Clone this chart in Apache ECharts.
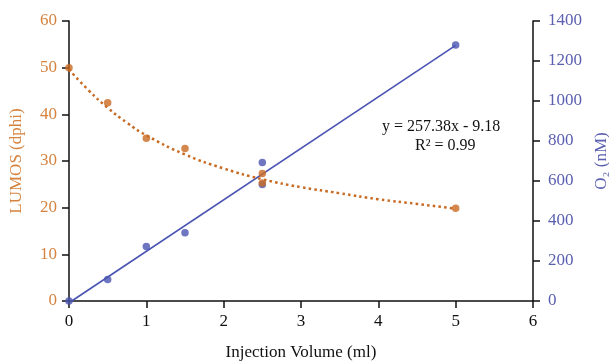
<!DOCTYPE html>
<html>
<head>
<meta charset="utf-8">
<script src="https://cdn.jsdelivr.net/npm/echarts@6/dist/echarts.min.js"></script>
<style>
  html, body { margin: 0; padding: 0; background: #fff; }
  #chart { width: 609px; height: 361px; }
</style>
</head>
<body>
<div id="chart"></div>
<script>
// LUMOS readings (left axis)
const lumosX = [0, 0.5, 1, 1.5, 2.5, 2.5, 5];
const lumosY = [50, 42.5, 34.9, 32.7, 27.3, 25.3, 19.9];

// dotted trend curve
const lumosTrendX = [0, 0.25, 0.5, 0.75, 1, 1.5, 2, 2.5, 3, 3.5, 4, 4.5, 5];
const lumosTrendY = [49.6, 45.2, 41.4, 38.2, 35.5, 31.4, 28.4, 26.1, 24.4, 23.1, 21.8, 20.8, 19.8];

// O2 readings (right axis)
const o2X = [0, 0.5, 1, 1.5, 2.5, 2.5, 5];
const o2Y = [0, 107, 272, 341, 693, 582, 1280];

// linear fit shown on the chart
const slope = 257.38;
const intercept = -9.18;
const fitRange = [-intercept / slope, 5];

const xTicks = [0, 1, 2, 3, 4, 5, 6];

const ORANGE = "#c96a22";
const ORANGE_TXT = "#d5833f";
const BLUE = "#4a54b2";
const BLUE_TXT = "#5b60b0";
const FONT = "Liberation Serif";

const zip = (xs, ys) => xs.map((x, i) => [x, ys[i]]);

const chart = echarts.init(document.getElementById("chart"));

chart.setOption({
  backgroundColor: "#fff",
  animation: false,
  textStyle: { fontFamily: FONT },
  grid: { left: 69, right: 76, top: 21, bottom: 60, containLabel: false, outerBoundsMode: "none" },
  xAxis: {
    type: "value",
    min: xTicks[0],
    max: xTicks[xTicks.length - 1],
    interval: 1,
    name: "Injection Volume (ml)",
    nameLocation: "middle",
    nameGap: 43,
    nameTextStyle: { color: "#111", fontSize: 17, fontFamily: FONT },
    axisLine: { lineStyle: { color: "#111", width: 1.5 } },
    axisTick: { length: 7, lineStyle: { color: "#111", width: 1.5 } },
    axisLabel: { color: "#111", fontSize: 17, fontFamily: FONT, margin: 12 },
    splitLine: { show: false },
  },
  yAxis: [
    {
      type: "value",
      min: 0,
      max: 60,
      interval: 10,
      name: "LUMOS (dphi)",
      nameLocation: "middle",
      nameRotate: 90,
      nameGap: 44,
      nameTextStyle: { color: ORANGE_TXT, fontSize: 17, fontFamily: FONT },
      axisLine: { show: true, lineStyle: { color: "#111", width: 1.5 } },
      axisTick: { show: true, length: 7, lineStyle: { color: "#111", width: 1.5 } },
      axisLabel: { color: ORANGE_TXT, fontSize: 17, fontFamily: FONT, margin: 12 },
      splitLine: { show: false },
    },
    {
      type: "value",
      min: 0,
      max: 1400,
      interval: 200,
      position: "right",
      name: "O₂ (nM)",
      nameLocation: "middle",
      nameRotate: 90,
      nameGap: 58,
      nameTextStyle: { color: BLUE_TXT, fontSize: 17, fontFamily: FONT },
      axisLine: { show: true, lineStyle: { color: "#111", width: 1.5 } },
      axisTick: { show: true, length: 7, lineStyle: { color: "#111", width: 1.5 } },
      axisLabel: {
        color: BLUE_TXT,
        fontSize: 17,
        fontFamily: FONT,
        margin: 15,
        formatter: (v) => String(v),
      },
      splitLine: { show: false },
    },
  ],
  graphic: [
    {
      type: "text",
      left: 382,
      top: 119,
      style: { text: "y = 257.38x - 9.18", fill: "#111", font: "16px " + FONT },
    },
    {
      type: "text",
      left: 415,
      top: 138,
      style: { text: "R² = 0.99", fill: "#111", font: "16px " + FONT },
    },
  ],
  series: [
    {
      type: "line",
      yAxisIndex: 1,
      data: fitRange.map((x) => [x, slope * x + intercept]),
      symbol: "none",
      lineStyle: { color: BLUE, width: 1.6 },
      z: 2,
    },
    {
      type: "line",
      yAxisIndex: 0,
      data: zip(lumosTrendX, lumosTrendY),
      smooth: true,
      symbol: "none",
      lineStyle: { color: ORANGE, width: 2.5, type: [2.5, 3.2] },
      z: 3,
    },
    {
      type: "scatter",
      yAxisIndex: 1,
      data: zip(o2X, o2Y),
      symbolSize: 7.5,
      itemStyle: { color: BLUE },
      z: 4,
    },
    {
      type: "scatter",
      yAxisIndex: 0,
      data: zip(lumosX, lumosY),
      symbolSize: 7.5,
      itemStyle: { color: ORANGE },
      z: 5,
    },
  ],
});
</script>
</body>
</html>
